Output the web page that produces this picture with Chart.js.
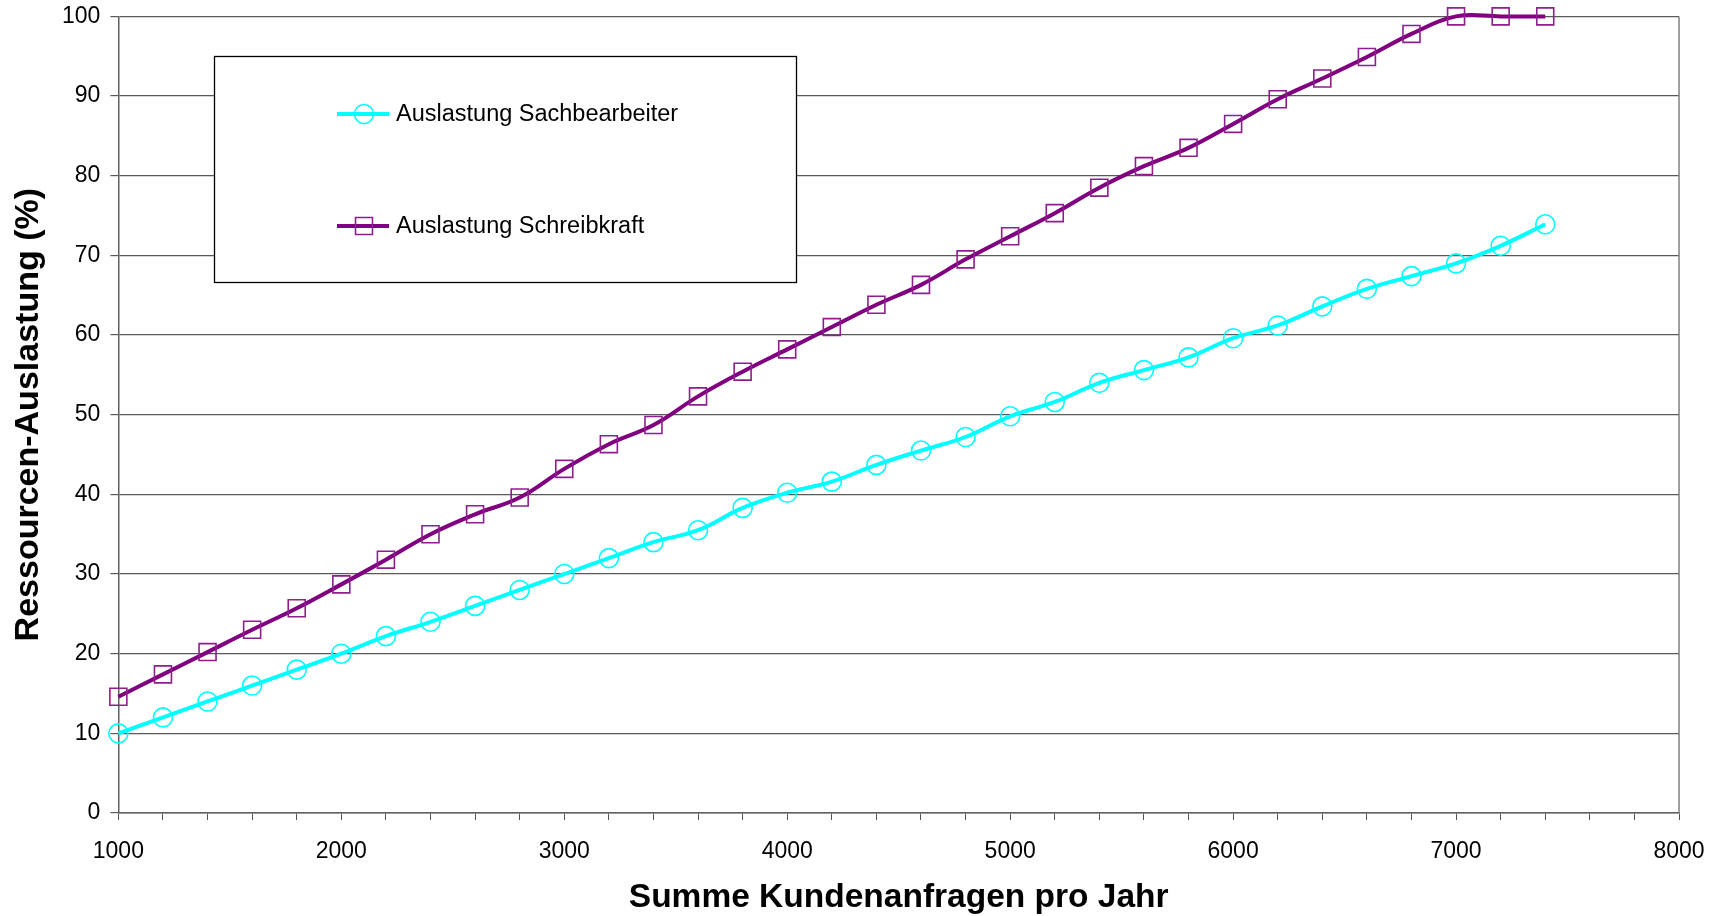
<!DOCTYPE html>
<html>
<head>
<meta charset="utf-8">
<title>Ressourcen-Auslastung</title>
<script src="https://cdn.jsdelivr.net/npm/chart.js@4.4.1/dist/chart.umd.min.js"></script>
<style>
    html, body { margin: 0; padding: 0; background: #fff; }
    #wrap { width: 1714px; height: 916px; position: relative; }
</style>
</head>
<body>
<div id="wrap"><canvas id="auslastungChart"></canvas></div>
<script>
// Kundenanfragen pro Jahr (x-Werte)
const anfragen = [1000, 1200, 1400, 1600, 1800, 2000, 2200, 2400, 2600, 2800,
    3000, 3200, 3400, 3600, 3800, 4000, 4200, 4400, 4600, 4800,
    5000, 5200, 5400, 5600, 5800, 6000, 6200, 6400, 6600, 6800,
    7000, 7200, 7400];

// Auslastung Sachbearbeiter (%)
const sachbearbeiter = [10, 12, 14, 16, 18, 20, 22.2, 24, 26, 28,
    30, 32, 34, 35.5, 38.3, 40.2, 41.6, 43.7, 45.5, 47.2,
    49.8, 51.6, 54, 55.6, 57.2, 59.6, 61.2, 63.6, 65.8, 67.4,
    69, 71.2, 73.9];

// Auslastung Schreibkraft (%)
const schreibkraft = [14.6, 17.4, 20.2, 23, 25.7, 28.7, 31.8, 35, 37.5, 39.6,
    43.2, 46.3, 48.7, 52.3, 55.4, 58.2, 61, 63.8, 66.3, 69.5,
    72.4, 75.3, 78.5, 81.2, 83.5, 86.5, 89.6, 92.2, 94.9, 97.8,
    100, 100, 100];

const seriesNames = ['Auslastung Sachbearbeiter', 'Auslastung Schreibkraft'];
const xTickLabels = [1000, 2000, 3000, 4000, 5000, 6000, 7000, 8000];

const FONT = "'Liberation Sans', Arial, sans-serif";

// Legende innerhalb der Zeichenfläche (wie im Excel-Original)
const innerLegend = {
    id: 'innerLegend',
    afterDatasetsDraw(chart) {
        const ctx = chart.ctx;
        const box = { x: 214.5, y: 56.5, w: 582, h: 226 };
        const rows = [114, 226];
        ctx.save();
        ctx.fillStyle = '#ffffff';
        ctx.fillRect(box.x, box.y, box.w, box.h);
        ctx.strokeStyle = '#000000';
        ctx.lineWidth = 1.3;
        ctx.strokeRect(box.x, box.y, box.w, box.h);

        chart.data.datasets.forEach((ds, i) => {
            const y = rows[i];
            ctx.strokeStyle = ds.borderColor;
            ctx.lineWidth = ds.borderWidth;
            ctx.beginPath();
            ctx.moveTo(337, y);
            ctx.lineTo(389, y);
            ctx.stroke();

            ctx.strokeStyle = ds.pointBorderColor;
            ctx.lineWidth = ds.pointBorderWidth;
            ctx.fillStyle = 'rgba(0,0,0,0)';
            Chart.helpers.drawPoint(ctx, {
                pointStyle: ds.pointStyle,
                radius: ds.pointRadius,
                borderWidth: ds.pointBorderWidth,
                rotation: 0
            }, 364, y);

            ctx.fillStyle = '#000000';
            ctx.font = '23.5px ' + FONT;
            ctx.textAlign = 'left';
            ctx.textBaseline = 'middle';
            ctx.fillText(ds.label, 396, y + 1);
        });
        ctx.restore();
    }
};

// Rahmen rechts der Zeichenfläche
const plotBorder = {
    id: 'plotBorder',
    beforeDatasetsDraw(chart) {
        const { ctx, chartArea } = chart;
        ctx.save();
        ctx.strokeStyle = '#808080';
        ctx.lineWidth = 1.5;
        ctx.beginPath();
        ctx.moveTo(chartArea.right, chartArea.top);
        ctx.lineTo(chartArea.right, chartArea.bottom);
        ctx.stroke();
        ctx.restore();
    }
};

const toPoints = (ys) => anfragen.map((x, i) => ({ x: x, y: ys[i] }));

const ctx = document.getElementById('auslastungChart').getContext('2d');
const auslastungChart = new Chart(ctx, {
    type: 'line',
    data: {
        datasets: [{
            label: seriesNames[0],
            data: toPoints(sachbearbeiter),
            borderColor: '#00FFFF',
            borderWidth: 4,
            pointStyle: 'circle',
            pointRadius: 9.5,
            pointBorderColor: '#00FFFF',
            pointBorderWidth: 1.6,
            pointBackgroundColor: 'rgba(0,0,0,0)',
            tension: 0.4,
            clip: false
        }, {
            label: seriesNames[1],
            data: toPoints(schreibkraft),
            borderColor: '#800080',
            borderWidth: 4,
            pointStyle: 'rect',
            pointRadius: 12,
            pointBorderColor: '#8E1E8E',
            pointBorderWidth: 1.6,
            pointBackgroundColor: 'rgba(0,0,0,0)',
            tension: 0.4,
            capBezierPoints: false,
            clip: false
        }]
    },
    options: {
        responsive: true,
        maintainAspectRatio: false,
        animation: false,
        layout: { padding: { top: 0, right: 0, bottom: 0, left: 4 } },
        plugins: {
            legend: { display: false },
            tooltip: { enabled: false }
        },
        scales: {
            x: {
                type: 'linear',
                min: 1000,
                max: 8000,
                grid: {
                    drawOnChartArea: false,
                    drawTicks: true,
                    tickLength: 7,
                    color: '#555555'
                },
                border: { color: '#606060', width: 1.5 },
                ticks: {
                    stepSize: 200,
                    autoSkip: false,
                    maxRotation: 0,
                    padding: 9.4,
                    color: '#000000',
                    font: { family: FONT, size: 23, lineHeight: 1.965 },
                    callback: (v) => xTickLabels.includes(v) ? String(v) : ''
                },
                title: {
                    display: true,
                    text: 'Summe Kundenanfragen pro Jahr',
                    color: '#000000',
                    font: { family: FONT, size: 33.5, weight: 'bold', lineHeight: 1 },
                    padding: { top: -2.5, bottom: 1 }
                }
            },
            y: {
                min: 0,
                max: 100,
                grid: {
                    color: '#5a5a5a',
                    lineWidth: 1.2,
                    tickLength: 8
                },
                border: { color: '#606060', width: 1.5 },
                ticks: {
                    stepSize: 10,
                    padding: 10,
                    color: '#000000',
                    font: { family: FONT, size: 23, lineHeight: 0.556 }
                },
                title: {
                    display: true,
                    text: 'Ressourcen-Auslastung (%)',
                    color: '#000000',
                    font: { family: FONT, size: 34, weight: 'bold', lineHeight: 1 },
                    padding: { top: 7.5, bottom: 6.5 }
                }
            }
        }
    },
    plugins: [plotBorder, innerLegend]
});
</script>
</body>
</html>
